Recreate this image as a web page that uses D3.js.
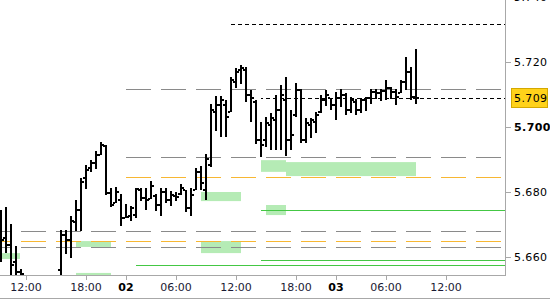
<!DOCTYPE html>
<html lang="en">
<head>
<meta charset="utf-8">
<title>Price bars</title>
<script src="https://cdn.jsdelivr.net/npm/d3@7"></script>
<style>
  body { margin: 0; background: #fff; }
  text { font-family: "DejaVu Sans", sans-serif; }
</style>
</head>
<body>
<div id="chart"></div>
<script>
// bar slot = 30 minute step on the session axis
var barSlot = [0,1,2,3,4,
  12,13,14,15,16,17,18,19,20,21,22,23,24,25,26,27,28,29,30,31,32,33,34,35,36,37,38,39,40,41,
  42,43,44,45,46,47,48,49,50,51,52,53,54,55,56,57,58,59,60,61,62,63,64,65,66,67,68,69,70,
  71,72,73,74,75,76,77,78,79,80,81,82,83];
var open = [5.6720,5.6658,5.6637,5.6585,5.6554,
  5.6560,5.6668,5.6652,5.6708,5.6745,5.6843,5.6874,5.6889,5.6914,5.6942,5.6797,5.6766,5.6775,5.6720,5.6726,5.6729,5.6806,5.6782,5.6778,5.6788,5.6760,5.6800,5.6775,5.6788,5.6794,5.6806,5.6751,5.6806,5.6862,5.6806,
  5.6883,5.7046,5.7068,5.7068,5.7046,5.7138,5.7175,5.7175,5.7098,5.7077,5.6960,5.6960,5.7006,5.7022,5.7052,5.7083,5.6960,5.7037,5.7114,5.6960,5.7006,5.7015,5.7046,5.7083,5.7089,5.7068,5.7089,5.7098,5.7052,
  5.7077,5.7052,5.7083,5.7089,5.7108,5.7105,5.7111,5.7120,5.7108,5.7105,5.7138,5.7169,5.7092];
var high = [5.6745,5.6754,5.6702,5.6634,5.6563,
  5.6683,5.6683,5.6726,5.6775,5.6843,5.6883,5.6898,5.6926,5.6954,5.6945,5.6812,5.6815,5.6794,5.6763,5.6757,5.6812,5.6812,5.6812,5.6834,5.6794,5.6812,5.6812,5.6803,5.6800,5.6825,5.6806,5.6812,5.6874,5.6880,5.6917,
  5.7071,5.7095,5.7095,5.7083,5.7154,5.7182,5.7191,5.7185,5.7114,5.7083,5.7015,5.7031,5.7043,5.7098,5.7129,5.7154,5.7052,5.7135,5.7117,5.7028,5.7028,5.7046,5.7098,5.7114,5.7089,5.7108,5.7117,5.7105,5.7092,
  5.7086,5.7089,5.7092,5.7117,5.7117,5.7117,5.7145,5.7123,5.7117,5.7145,5.7215,5.7185,5.7240];
var low = [5.6585,5.6612,5.6514,5.6498,5.6498,
  5.6529,5.6609,5.6597,5.6680,5.6680,5.6809,5.6862,5.6871,5.6914,5.6791,5.6754,5.6766,5.6695,5.6720,5.6711,5.6720,5.6772,5.6745,5.6778,5.6742,5.6726,5.6766,5.6757,5.6772,5.6791,5.6738,5.6726,5.6806,5.6806,5.6775,
  5.6877,5.6988,5.6969,5.6969,5.7046,5.7120,5.7132,5.7077,5.7015,5.6948,5.6908,5.6938,5.6929,5.6929,5.6929,5.6911,5.6929,5.7031,5.6951,5.6951,5.6966,5.6982,5.7043,5.7065,5.7052,5.7022,5.7062,5.7037,5.7043,
  5.7037,5.7043,5.7049,5.7071,5.7086,5.7080,5.7083,5.7086,5.7068,5.7105,5.7114,5.7083,5.7071];
var close = [5.6652,5.6637,5.6575,5.6554,5.6548,
  5.6668,5.6652,5.6711,5.6745,5.6831,5.6868,5.6889,5.6914,5.6945,5.6797,5.6760,5.6800,5.6720,5.6723,5.6751,5.6809,5.6782,5.6775,5.6818,5.6760,5.6800,5.6775,5.6791,5.6785,5.6812,5.6751,5.6791,5.6862,5.6828,5.6902,
  5.7052,5.7068,5.7083,5.7031,5.7145,5.7169,5.7182,5.7098,5.7089,5.6960,5.6945,5.7012,5.7028,5.7052,5.7098,5.6960,5.6975,5.7114,5.6960,5.7012,5.7022,5.7037,5.7083,5.7098,5.7068,5.7089,5.7098,5.7052,5.7083,
  5.7052,5.7083,5.7089,5.7108,5.7105,5.7111,5.7120,5.7108,5.7092,5.7138,5.7169,5.7092,5.7090];

// shaded zones (slot range, price range)
var zoneStart  = [-1, 15, 15, 40, 40, 52, 57, 53];
var zoneEnd    = [3.8, 22, 22, 48, 48, 57, 83, 57];
var zoneTop    = [5.6612, 5.6649, 5.6551, 5.6800, 5.6649, 5.6898, 5.6892, 5.6760];
var zoneBottom = [5.6594, 5.6631, 5.6515, 5.6772, 5.6612, 5.6862, 5.6849, 5.6729];

// horizontal levels
var levelValue = [5.7117, 5.6908, 5.6846, 5.6680, 5.6649, 5.6631, 5.7317, 5.7090, 5.6745, 5.6591, 5.6575];
var levelStart = [25, 25, 25, -1, -1, -1, 46, 52, 52, 52, 27];
var levelKind  = ["gray","gray","orange","gray","orange","gray","black","black","green","green","green"];

var priceTicks = [5.660, 5.680, 5.700, 5.720, 5.740];
var lastPrice = 5.709;
var timeTickSlot = [5, 17, 25, 35, 47, 59, 67, 77, 89];
var timeTickLabel = ["12:00","18:00","02","06:00","12:00","18:00","03","06:00","12:00"];

var w = 550, h = 300;
var plotW = 505, plotH = 275;

var svg = d3.select("#chart").append("svg")
  .attr("width", w).attr("height", h);

var x = d3.scaleLinear().domain([0, 100]).range([1, 501]);
var y = d3.scaleLinear().domain([5.660, 5.720]).range([257, 62]);

svg.append("defs").append("clipPath").attr("id", "plotClip")
  .append("rect").attr("x", 0).attr("y", 0).attr("width", plotW).attr("height", plotH);

var plot = svg.append("g").attr("clip-path", "url(#plotClip)");

// zones
plot.selectAll("rect.zone")
  .data(zoneStart.map(function(s, i) { return i; }))
  .enter().append("rect")
  .attr("class", "zone")
  .attr("x", function(i) { return x(zoneStart[i]); })
  .attr("width", function(i) { return x(zoneEnd[i]) - x(zoneStart[i]); })
  .attr("y", function(i) { return y(zoneTop[i]); })
  .attr("height", function(i) { return y(zoneBottom[i]) - y(zoneTop[i]); })
  .attr("fill", "#b5ebb5");

var kindStyle = {
  gray:   { color: "#8a8a8a", dash: [25, 10] },
  orange: { color: "#f7b733", dash: [25, 10] },
  black:  { color: "#000000", dash: [4, 3] },
  green:  { color: "#44c744", dash: null }
};

// dashes of the long-dash levels share one phase anchored on slot 25
var anchor = x(25);
plot.selectAll("line.level")
  .data(levelValue.map(function(v, i) { return i; }))
  .enter().append("line")
  .attr("class", "level")
  .attr("x1", function(i) { return x(levelStart[i]); })
  .attr("x2", plotW)
  .attr("y1", function(i) { return Math.round(y(levelValue[i])) + 0.5; })
  .attr("y2", function(i) { return Math.round(y(levelValue[i])) + 0.5; })
  .attr("stroke", function(i) { return kindStyle[levelKind[i]].color; })
  .attr("stroke-width", 1)
  .attr("stroke-dasharray", function(i) {
    var d = kindStyle[levelKind[i]].dash;
    return d ? d.join(",") : null;
  })
  .attr("stroke-dashoffset", function(i) {
    var d = kindStyle[levelKind[i]].dash;
    if (!d) return null;
    var p = d[0] + d[1];
    return ((x(levelStart[i]) - anchor) % p + p) % p;
  });

// OHLC bars
var bars = plot.selectAll("g.bar")
  .data(barSlot.map(function(s, i) { return i; }))
  .enter().append("g").attr("class", "bar");

bars.append("rect")
  .attr("x", function(i) { return x(barSlot[i]) - 1; })
  .attr("width", 2)
  .attr("y", function(i) { return Math.round(y(high[i])); })
  .attr("height", function(i) { return Math.max(2, Math.round(y(low[i])) - Math.round(y(high[i]))); })
  .attr("fill", "#000");

bars.append("rect")
  .attr("x", function(i) { return x(barSlot[i]) - 3; })
  .attr("width", 2)
  .attr("y", function(i) { return Math.round(y(open[i])) - 1; })
  .attr("height", 2)
  .attr("fill", "#000");

bars.append("rect")
  .attr("x", function(i) { return x(barSlot[i]) + 1; })
  .attr("width", 2)
  .attr("y", function(i) { return Math.round(y(close[i])) - 1; })
  .attr("height", 2)
  .attr("fill", "#000");

// frame lines
svg.append("line").attr("x1", plotW + 0.5).attr("x2", plotW + 0.5)
  .attr("y1", 0).attr("y2", plotH + 1).attr("stroke", "#a8a8a8");
svg.append("line").attr("x1", 0).attr("x2", plotW + 1)
  .attr("y1", plotH + 0.5).attr("y2", plotH + 0.5).attr("stroke", "#a8a8a8");
svg.append("line").attr("x1", 0).attr("x2", w)
  .attr("y1", h - 1.5).attr("y2", h - 1.5).attr("stroke", "#a8a8a8");

// price axis
var yAxis = svg.append("g");
yAxis.selectAll("line")
  .data(priceTicks).enter().append("line")
  .attr("x1", plotW + 1).attr("x2", plotW + 6)
  .attr("y1", function(d) { return Math.round(y(d)) + 0.5; })
  .attr("y2", function(d) { return Math.round(y(d)) + 0.5; })
  .attr("stroke", "#a8a8a8");
yAxis.selectAll("text")
  .data(priceTicks).enter().append("text")
  .attr("x", 514)
  .attr("y", function(d) { return y(d); })
  .attr("dy", "0.36em")
  .attr("font-size", 11)
  .attr("letter-spacing", 0.4)
  .attr("font-weight", function(d) { return Math.abs(d - 5.700) < 1e-9 ? "bold" : "normal"; })
  .attr("fill", "#000")
  .text(d3.format(".3f"));

// last price marker
var ly = Math.round(y(lastPrice));
svg.append("rect")
  .attr("x", 511.5).attr("y", ly - 9.5)
  .attr("width", 36).attr("height", 19)
  .attr("fill", "#ffd21a").attr("stroke", "#d4a800");
svg.append("text")
  .attr("x", 514).attr("y", ly)
  .attr("dy", "0.36em")
  .attr("font-size", 11)
  .attr("letter-spacing", 0.4)
  .attr("fill", "#000")
  .text(d3.format(".3f")(lastPrice));

// time axis
var xAxis = svg.append("g");
xAxis.selectAll("line")
  .data(timeTickSlot).enter().append("line")
  .attr("x1", function(d) { return Math.round(x(d)) + 0.5; })
  .attr("x2", function(d) { return Math.round(x(d)) + 0.5; })
  .attr("y1", plotH + 1).attr("y2", plotH + 5)
  .attr("stroke", "#a8a8a8");
xAxis.selectAll("text")
  .data(timeTickSlot).enter().append("text")
  .attr("x", function(d) { return x(d); })
  .attr("y", 287)
  .attr("dy", "0.36em")
  .attr("text-anchor", "middle")
  .attr("font-size", 11)
  .attr("font-weight", function(d, i) { return timeTickLabel[i].indexOf(":") < 0 ? "bold" : "normal"; })
  .attr("fill", function(d, i) { return timeTickLabel[i].indexOf(":") < 0 ? "#000" : "#1a1a33"; })
  .text(function(d, i) { return timeTickLabel[i]; });
</script>
</body>
</html>
